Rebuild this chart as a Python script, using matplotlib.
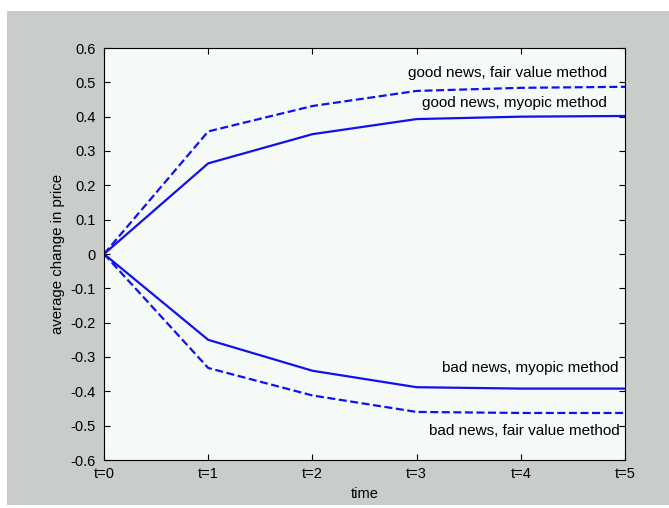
import matplotlib
matplotlib.use("Agg")
import matplotlib.pyplot as plt
from matplotlib.patches import Rectangle

t = [0, 1, 2, 3, 4, 5]
tick_labels = ["t=0", "t=1", "t=2", "t=3", "t=4", "t=5"]
good_fair = [0, 0.357, 0.431, 0.475, 0.484, 0.487]
good_myopic = [0, 0.264, 0.349, 0.393, 0.400, 0.402]
bad_myopic = [0, -0.250, -0.340, -0.388, -0.392, -0.392]
bad_fair = [0, -0.332, -0.412, -0.460, -0.463, -0.463]

plt.rcParams['font.family'] = ['Liberation Sans', 'DejaVu Sans']

fig = plt.figure(figsize=(6.69, 5.08), dpi=100, facecolor='white')
fig.patches.append(Rectangle((7/669, 3/508), 662/669, 494/508, transform=fig.transFigure,
                             facecolor='#c8cdc9', edgecolor='none', zorder=-10))
ax = fig.add_axes([104/669, 48/508, 521/669, 412/508])
ax.set_facecolor('#f5faf7')
blue = '#1010f0'
ax.plot(t, good_fair, '--', color=blue, lw=1.6, dashes=(3.6, 1.6))
ax.plot(t, good_myopic, '-', color=blue, lw=1.6)
ax.plot(t, bad_myopic, '-', color=blue, lw=1.6)
ax.plot(t, bad_fair, '--', color=blue, lw=1.6, dashes=(3.6, 1.6))

ax.set_xlim(0, 5)
ax.set_ylim(-0.6, 0.6)
ax.set_xticks(t)
ax.set_xticklabels(tick_labels)
yt = [round(-0.6 + 0.1 * i, 1) for i in range(13)]
ax.set_yticks(yt)
ax.set_yticklabels(["0" if v == 0 else f"{v:.1f}" for v in yt])
ax.tick_params(direction='in', length=4, width=0.8, top=True, right=True, labelsize=10.5, colors='black')
ax.tick_params(axis='y', pad=6)
ax.tick_params(axis='x', pad=5)
for s in ax.spines.values():
    s.set_linewidth(0.8)
ax.set_xlabel("time", fontsize=10.5, labelpad=4)
ax.set_ylabel("average change in price", fontsize=10.8, labelpad=4)

fs = 11
ax.text(4.83, 0.526, "good news, fair value method", ha='right', va='center', fontsize=fs)
ax.text(4.83, 0.440, "good news, myopic method", ha='right', va='center', fontsize=fs)
ax.text(4.94, -0.332, "bad news, myopic method", ha='right', va='center', fontsize=fs)
ax.text(4.95, -0.516, "bad news, fair value method", ha='right', va='center', fontsize=fs)

fig.savefig("out.png", dpi=100)
